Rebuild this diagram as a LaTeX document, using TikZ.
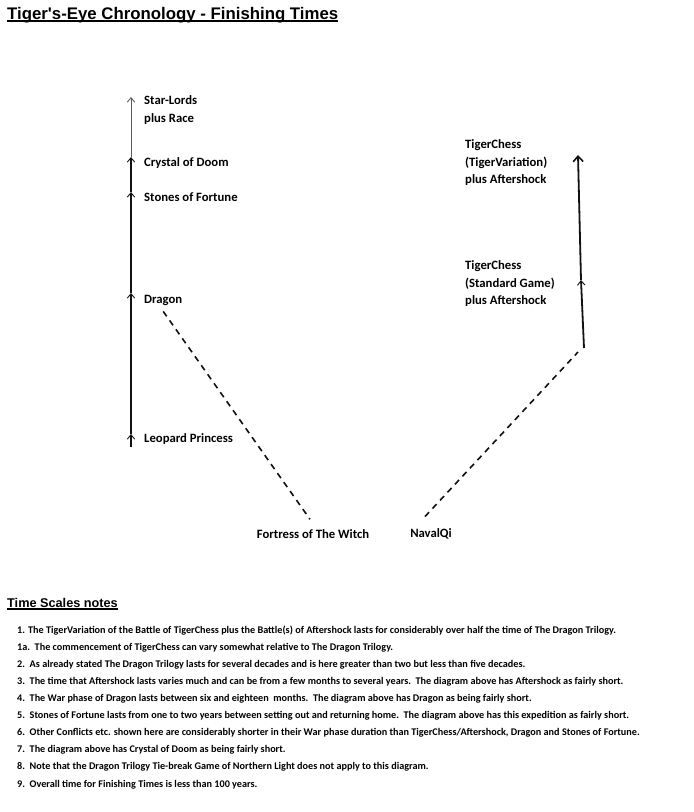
\documentclass[tikz,border=0pt]{standalone}
\usepackage{fontspec}
\setmainfont{Carlito}
\newfontfamily\headfont{Liberation Sans}
\usetikzlibrary{positioning, arrows.meta, calc}
\definecolor{lineBlack}{HTML}{111111}
\definecolor{lineGray}{HTML}{5A5A5A}
\newcommand{\undr}[1]{\setbox0\hbox{#1}\rlap{\rule[-2.6pt]{\wd0}{1.3pt}}\box0}
\tikzset{
  lbl/.style      = {anchor=west, inner sep=0pt, align=left,
                     font=\bfseries\fontsize{12.7}{17.5}\selectfont},
  bottomLbl/.style= {anchor=center, inner sep=0pt,
                     font=\bfseries\fontsize{12.7}{14}\selectfont},
  note/.style     = {anchor=west, inner sep=0pt,
                     font=\bfseries\fontsize{10.2}{12}\selectfont},
  heading/.style  = {anchor=base west, inner sep=0pt, font=\headfont\bfseries},
  tick/.style     = {-{Straight Barb[length=4.5pt, width=7.5pt, line width=0.9pt]}},
  bigTick/.style  = {-{Straight Barb[length=5.5pt, width=10pt, line width=1.6pt]}},
  thickLine/.style= {draw=lineBlack, line width=1.8pt},
  midLine/.style  = {draw=lineBlack, line width=1.3pt},
  thinLine/.style = {draw=lineGray, line width=0.9pt},
  dashLine/.style = {draw=lineBlack, line width=1.6pt,
                     dash pattern=on 6pt off 5pt}
}
\begin{document}
\begin{tikzpicture}[x=1pt, y=-1pt]
  \useasboundingbox (0,0) rectangle (694,812);
  % Title
  \node[heading, font=\headfont\bfseries\fontsize{16.8}{18}\selectfont] (title)
       at (7,19) {\undr{Tiger's-Eye Chronology - Finishing Times}};
  % Left timeline: Dragon Trilogy
  \coordinate (l0) at (131,447);
  \coordinate (l1) at (131,434);
  \coordinate (l2) at (131,293);
  \coordinate (l3) at (131,192);
  \coordinate (l4) at (131,157);
  \coordinate (l5) at (131,97);
  \draw[thickLine, tick] (l0) -- (l1);
  \draw[thickLine, tick] (l1) -- (l2);
  \draw[thickLine, tick] (l2) -- (l3);
  \draw[midLine, tick]   (l3) -- (l4);
  \draw[thinLine, tick]  (l4) -- (l5);
  \node[lbl] (starlords) at (144,110) {Star-Lords\\plus Race};
  \node[lbl] (crystal)   at (144,163) {Crystal of Doom};
  \node[lbl] (stones)    at (144,197) {Stones of Fortune};
  \node[lbl] (dragon)    at (144,300) {Dragon};
  \node[lbl] (leopard)   at (144,439) {Leopard Princess};
  % Right timeline: TigerChess
  \coordinate (r0) at (584,348);
  \coordinate (r1) at (581,280);
  \coordinate (r2) at (578,155);
  \draw[thickLine, tick]    (r0) -- (r1);
  \draw[thickLine, bigTick] (r1) -- (r2);
  \node[lbl] (tigerVar) at (465,163) {TigerChess\\(TigerVariation)\\plus Aftershock};
  \node[lbl] (tigerStd) at (465,284) {TigerChess\\(Standard Game)\\plus Aftershock};
  % Starting points
  \node[bottomLbl] (fortress) at (313,534) {Fortress of The Witch};
  \node[bottomLbl] (navalqi)  at (431,534) {NavalQi};
  \draw[dashLine] ($(dragon.south)+(0,6)$) -- ($(fortress.north)+(-3,-10)$);
  \draw[dashLine] ($(navalqi.north)+(-6,-12)$) -- ($(r0)+(-6,4)$);
  % Notes
  \node[heading, font=\headfont\bfseries\fontsize{12.7}{15}\selectfont] (notesHead)
       at (7,607) {\undr{Time Scales notes}};
  \foreach \y/\txt in {
      631/{1. The TigerVariation of the Battle of TigerChess plus the Battle(s) of Aftershock lasts for considerably over half the time of The Dragon Trilogy.},
      648/{1a.\ \ The commencement of TigerChess can vary somewhat relative to The Dragon Trilogy.},
      665/{2.\ \ As already stated The Dragon Trilogy lasts for several decades and is here greater than two but less than five decades.},
      682/{3.\ \ The time that Aftershock lasts varies much and can be from a few months to several years.\ \ The diagram above has Aftershock as fairly short.},
      699/{4.\ \ The War phase of Dragon lasts between six and eighteen\ \ months.\ \ The diagram above has Dragon as being fairly short.},
      716/{5.\ \ Stones of Fortune lasts from one to two years between setting out and returning home.\ \ The diagram above has this expedition as fairly short.},
      733/{6.\ \ Other Conflicts etc. shown here are considerably shorter in their War phase duration than TigerChess/Aftershock, Dragon and Stones of Fortune.},
      750/{7.\ \ The diagram above has Crystal of Doom as being fairly short.},
      767/{8.\ \ Note that the Dragon Trilogy Tie-break Game of Northern Light does not apply to this diagram.},
      785/{9.\ \ Overall time for Finishing Times is less than 100 years.}}{
    \node[note] at (17,\y) {\txt};
  }
\end{tikzpicture}
\end{document}
